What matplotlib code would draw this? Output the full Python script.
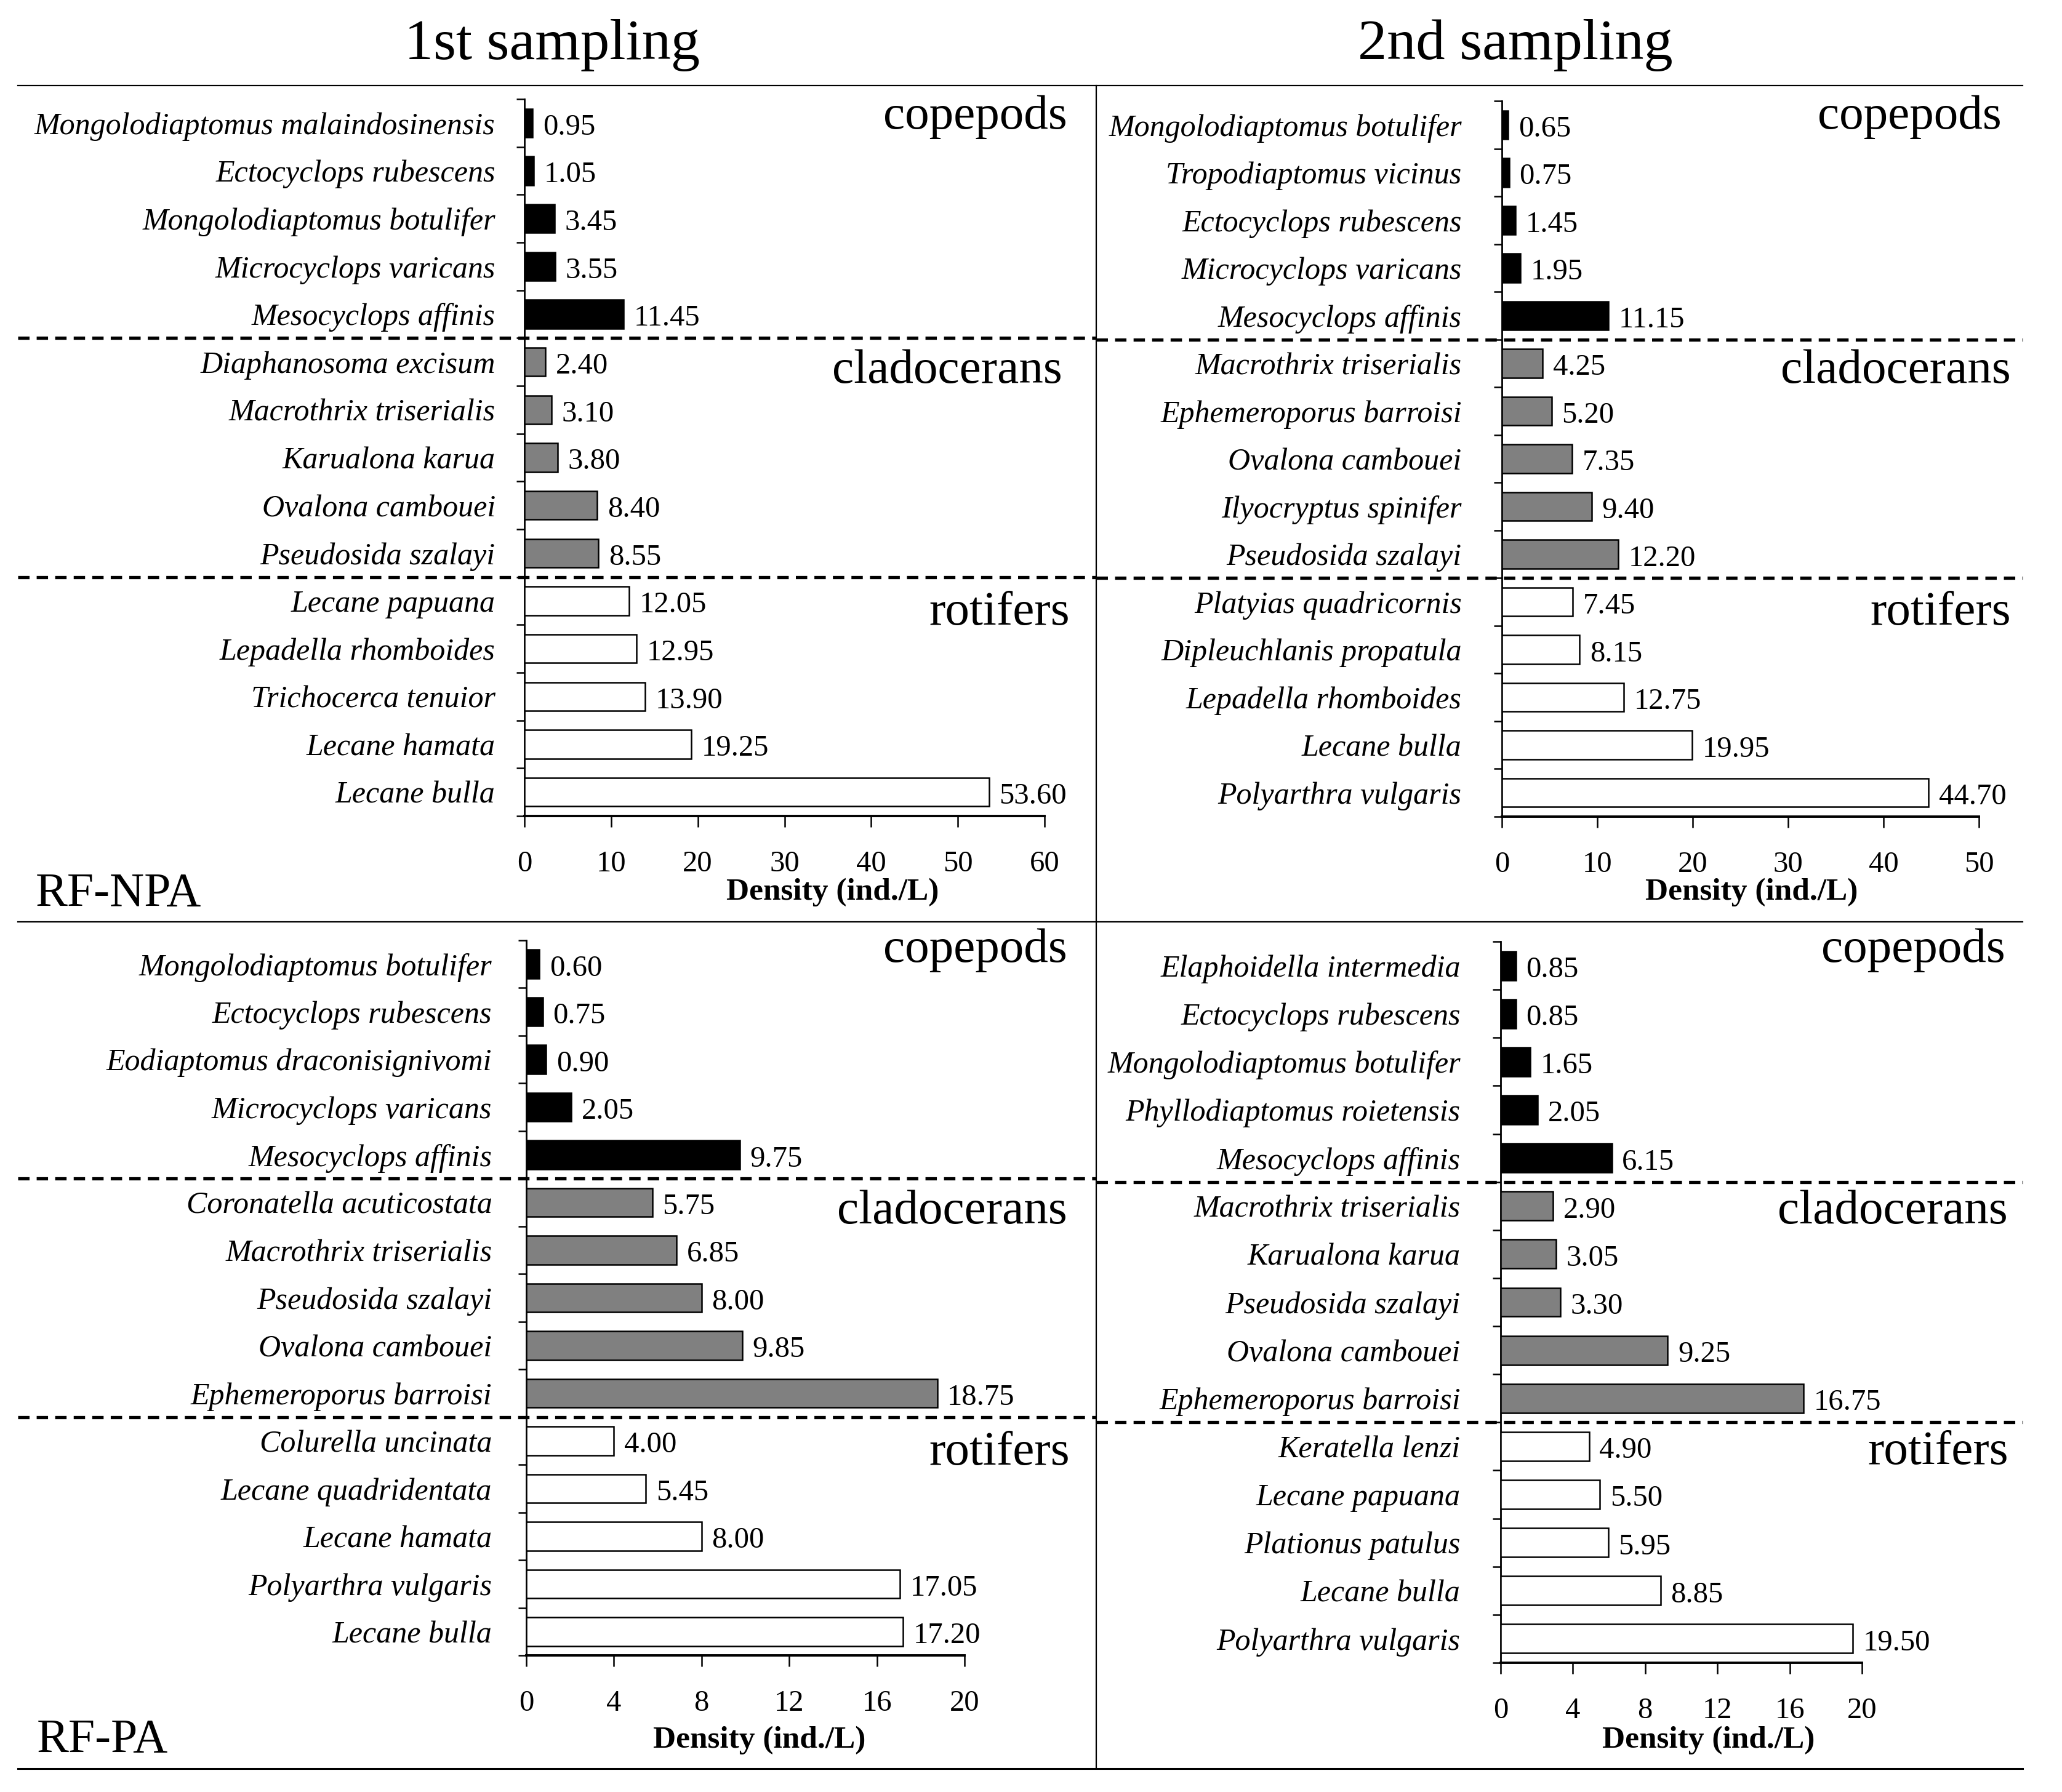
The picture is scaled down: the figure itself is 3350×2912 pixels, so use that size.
import numpy as np
import matplotlib
matplotlib.use("Agg")
import matplotlib.pyplot as plt
from matplotlib import transforms
from matplotlib.lines import Line2D

plt.rcParams['font.family'] = ['Liberation Serif', 'DejaVu Serif']

# ---------------- data ----------------
groups = ["copepods", "cladocerans", "rotifers"]
group_colors = ["#000000", "#808080", "#ffffff"]

tl_names = ["Mongolodiaptomus malaindosinensis", "Ectocyclops rubescens", "Mongolodiaptomus botulifer",
            "Microcyclops varicans", "Mesocyclops affinis",
            "Diaphanosoma excisum", "Macrothrix triserialis", "Karualona karua", "Ovalona cambouei",
            "Pseudosida szalayi",
            "Lecane papuana", "Lepadella rhomboides", "Trichocerca tenuior", "Lecane hamata", "Lecane bulla"]
tl_values = [0.95, 1.05, 3.45, 3.55, 11.45,
             2.40, 3.10, 3.80, 8.40, 8.55,
             12.05, 12.95, 13.90, 19.25, 53.60]

tr_names = ["Mongolodiaptomus botulifer", "Tropodiaptomus vicinus", "Ectocyclops rubescens",
            "Microcyclops varicans", "Mesocyclops affinis",
            "Macrothrix triserialis", "Ephemeroporus barroisi", "Ovalona cambouei", "Ilyocryptus spinifer",
            "Pseudosida szalayi",
            "Platyias quadricornis", "Dipleuchlanis propatula", "Lepadella rhomboides", "Lecane bulla",
            "Polyarthra vulgaris"]
tr_values = [0.65, 0.75, 1.45, 1.95, 11.15,
             4.25, 5.20, 7.35, 9.40, 12.20,
             7.45, 8.15, 12.75, 19.95, 44.70]

bl_names = ["Mongolodiaptomus botulifer", "Ectocyclops rubescens", "Eodiaptomus draconisignivomi",
            "Microcyclops varicans", "Mesocyclops affinis",
            "Coronatella acuticostata", "Macrothrix triserialis", "Pseudosida szalayi", "Ovalona cambouei",
            "Ephemeroporus barroisi",
            "Colurella uncinata", "Lecane quadridentata", "Lecane hamata", "Polyarthra vulgaris", "Lecane bulla"]
bl_values = [0.60, 0.75, 0.90, 2.05, 9.75,
             5.75, 6.85, 8.00, 9.85, 18.75,
             4.00, 5.45, 8.00, 17.05, 17.20]

br_names = ["Elaphoidella intermedia", "Ectocyclops rubescens", "Mongolodiaptomus botulifer",
            "Phyllodiaptomus roietensis", "Mesocyclops affinis",
            "Macrothrix triserialis", "Karualona karua", "Pseudosida szalayi", "Ovalona cambouei",
            "Ephemeroporus barroisi",
            "Keratella lenzi", "Lecane papuana", "Plationus patulus", "Lecane bulla", "Polyarthra vulgaris"]
br_values = [0.85, 0.85, 1.65, 2.05, 6.15,
             2.90, 3.05, 3.30, 9.25, 16.75,
             4.90, 5.50, 5.95, 8.85, 19.50]

group_sizes = [5, 5, 5]
tl_xticks = [0, 10, 20, 30, 40, 50, 60]
tr_xticks = [0, 10, 20, 30, 40, 50]
bl_xticks = [0, 4, 8, 12, 16, 20]
br_xticks = [0, 4, 8, 12, 16, 20]
col_titles = ["1st sampling", "2nd sampling"]
row_labels = ["RF-NPA", "RF-PA"]
xlabel = "Density (ind./L)"

# ---------------- layout (pixels) ----------------
W, H = 3350, 2912
fig = plt.figure(figsize=(W / 100, H / 100), dpi=100)


def fx(x):
    return x / W


def fy(y):
    return 1 - y / H


def add_ax(l, r, t, b):
    return fig.add_axes([fx(l), fy(b), (r - l) / W, (b - t) / H])


panels = [
    dict(names=tl_names, values=tl_values, xticks=tl_xticks, rect=(852, 1697, 161, 1326), ypad=34,
         xl=0.593, xlb=1462, half=(29, 1781)),
    dict(names=tr_names, values=tr_values, xticks=tr_xticks, rect=(2440, 3215, 164, 1327), ypad=47,
         xl=0.523, xlb=1462, half=(1781, 3286)),
    dict(names=bl_names, values=bl_values, xticks=bl_xticks, rect=(855, 1567, 1528, 2690), ypad=40,
         xl=0.532, xlb=2840, half=(29, 1781)),
    dict(names=br_names, values=br_values, xticks=br_xticks, rect=(2438, 3025, 1530, 2702), ypad=47,
         xl=0.576, xlb=2840, half=(1781, 3286)),
]

bar_colors = []
for c, n in zip(group_colors, group_sizes):
    bar_colors += [c] * n

bounds = np.cumsum(group_sizes)[:-1] - 0.5

for p in panels:
    ax = add_ax(*p["rect"])
    y = np.arange(len(p["names"]))
    ax.barh(y, p["values"], height=0.6, color=bar_colors, edgecolor="black", linewidth=1.8, zorder=3)
    for yi, v in zip(y, p["values"]):
        ax.annotate(f"{v:.2f}", xy=(v, yi), xytext=(12, -5), textcoords="offset points",
                    ha="left", va="center", fontsize=35)
    ax.set_xlim(0, p["xticks"][-1])
    ax.set_ylim(len(y) - 0.5, -0.5)
    ax.set_xticks(p["xticks"])
    ax.set_yticks(y)
    ax.set_yticklabels(p["names"], fontstyle="italic")
    ax.set_yticks(np.arange(-0.5, len(y) + 0.5, 1), minor=True)
    ax.tick_params(axis="x", direction="out", length=13, width=1.8, labelsize=35, pad=27)
    ax.tick_params(axis="y", which="major", length=0, labelsize=36, pad=p["ypad"])
    ax.tick_params(axis="y", which="minor", direction="out", length=9.5, width=1.8)
    for s in ("top", "right"):
        ax.spines[s].set_visible(False)
    ax.spines["left"].set_linewidth(2.0)
    ax.spines["bottom"].set_linewidth(2.8)
    ax.set_xlabel(xlabel, fontsize=37, fontweight="bold")
    ax.xaxis.set_label_coords(p["xl"], fy(p["xlb"]),
                              transform=transforms.blended_transform_factory(ax.transAxes, fig.transFigure))
    ax.xaxis.label.set_va("baseline")
    # group separators
    tr = transforms.blended_transform_factory(fig.transFigure, ax.transData)
    x0, x1 = p["half"]
    for b in bounds:
        ax.add_line(Line2D([fx(x0), fx(x1)], [b, b], transform=tr, color="black", lw=3.8,
                           linestyle=(0, (3.5, 2.2)), clip_on=False, zorder=5))

# group labels (right edge x, baseline y)
group_label_pos = [
    [(1734, 209), (1726, 622), (1738, 1015)],
    [(3252, 209), (3267, 622), (3267, 1015)],
    [(1734, 1563), (1734, 1988), (1738, 2380)],
    [(3258, 1563), (3262, 1988), (3263, 2379)],
]
for pos in group_label_pos:
    for g, (x, yb) in zip(groups, pos):
        fig.text(fx(x), fy(yb), g, ha="right", va="baseline", fontsize=57)

# column titles
fig.text(fx(897), fy(96), col_titles[0], ha="center", va="baseline", fontsize=68)
fig.text(fx(2462), fy(96), col_titles[1], ha="center", va="baseline", fontsize=68)

# row labels
fig.text(fx(58), fy(1472), row_labels[0], ha="left", va="baseline", fontsize=56)
fig.text(fx(60), fy(2847), row_labels[1], ha="left", va="baseline", fontsize=56)

# frame lines
fig.add_artist(Line2D([fx(29), fx(3286)], [fy(139), fy(139)], color="black", lw=1.6))
fig.add_artist(Line2D([fx(29), fx(3286)], [fy(1498), fy(1498)], color="black", lw=1.6))
fig.add_artist(Line2D([fx(29), fx(3286)], [fy(2874), fy(2874)], color="black", lw=2.2))
fig.add_artist(Line2D([fx(1781), fx(1781)], [fy(139), fy(2874)], color="black", lw=1.6))

fig.savefig("out.png", dpi=100)
